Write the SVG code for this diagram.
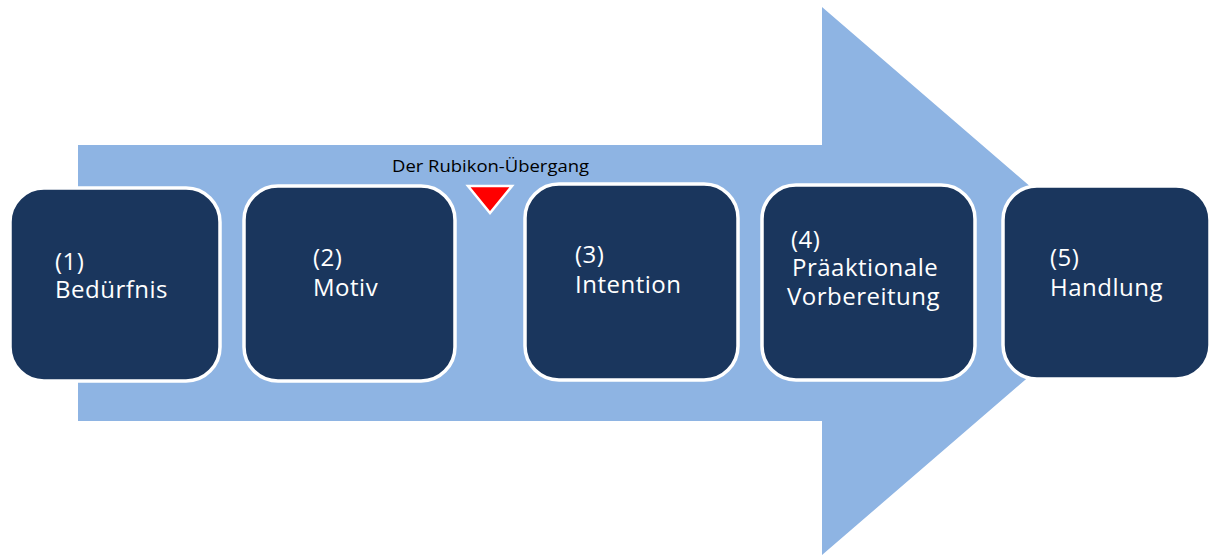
<svg xmlns="http://www.w3.org/2000/svg" width="1210" height="557" viewBox="0 0 1210 557">
<style>
.box{fill:#1a365d;stroke:#ffffff;stroke-width:3.5}
.t{font-family:"Open Sans","Liberation Sans",sans-serif;font-size:24px;letter-spacing:0.5px;fill:#ffffff}
.lbl{font-family:"Open Sans","Liberation Sans",sans-serif;font-size:16.5px;fill:#000000}
</style>
<rect width="1210" height="557" fill="#ffffff"/>
<g id="arrow">
<polygon points="78,145 822,145 822,7 1140,281 822,555 822,421 78,421" fill="#8eb4e3"/>
</g>
<g id="connectors">
<polygon points="468,186 512,186 490,213" fill="#ff0000" stroke="#ffffff" stroke-width="2.5" stroke-linejoin="miter"/>
<text class="lbl" x="392" y="172" textLength="197" lengthAdjust="spacingAndGlyphs">Der Rubikon-Übergang</text>
</g>
<g id="node1">
<rect class="box" x="10" y="188" width="210" height="193" rx="34"/>
<text class="t" x="55" y="270">(1)</text>
<text class="t" x="55" y="298">Bedürfnis</text>
</g>
<g id="node2">
<rect class="box" x="244" y="186" width="211" height="195" rx="34"/>
<text class="t" x="313" y="266">(2)</text>
<text class="t" x="313" y="296">Motiv</text>
</g>
<g id="node3">
<rect class="box" x="525" y="184" width="213" height="196" rx="34"/>
<text class="t" x="575" y="263">(3)</text>
<text class="t" x="575" y="293">Intention</text>
</g>
<g id="node4">
<rect class="box" x="762" y="185" width="213" height="195" rx="34"/>
<text class="t" x="791" y="248">(4)</text>
<text class="t" x="792" y="276">Präaktionale</text>
<text class="t" x="787" y="305">Vorbereitung</text>
</g>
<g id="node5">
<rect class="box" x="1003" y="186" width="207" height="193" rx="34"/>
<text class="t" x="1050" y="266">(5)</text>
<text class="t" x="1050" y="296">Handlung</text>
</g>
</svg>
